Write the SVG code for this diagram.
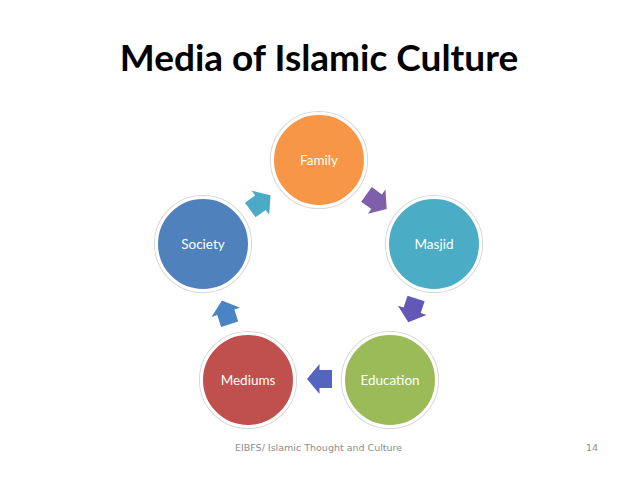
<svg xmlns="http://www.w3.org/2000/svg" width="638" height="479" viewBox="0 0 638 479">
<style>
.title{font-family:Lato,"Open Sans","Liberation Sans",sans-serif;font-weight:bold;font-size:37px;fill:#000}
.node circle.f{stroke:#fff;stroke-width:3}
.node circle.s{fill:none;stroke:#d9d9d9;stroke-width:1.2}
.lbl{font-family:Lato,"Open Sans","Liberation Sans",sans-serif;font-size:13.5px;fill:#fff;text-anchor:middle}
.foot{font-family:"DejaVu Sans","Liberation Sans",sans-serif;font-size:9.5px;fill:#8c8c8c}
</style>
<defs>
<path id="arr" d="M-12.5,-9 L0,-9 L0,-15 L12.5,0 L0,15 L0,9 L-12.5,9 Z"/>
</defs>
<rect width="638" height="479" fill="#fff"/>
<text class="title" x="319" y="71" text-anchor="middle">Media of Islamic Culture</text>
<g id="connectors">
<use href="#arr" fill="#7F5FAA" transform="translate(376.6,201.7) rotate(36)"/>
<use href="#arr" fill="#6358B5" transform="translate(412.2,310.3) rotate(108)"/>
<use href="#arr" fill="#5565BF" transform="translate(319.5,379) rotate(180)"/>
<use href="#arr" fill="#4A84C4" transform="translate(225.8,312.3) rotate(252)"/>
<use href="#arr" fill="#4AAAC8" transform="translate(260.4,202.7) rotate(324)"/>
</g>
<g id="family" class="node">
<circle class="s" cx="319" cy="160" r="48.5"/>
<circle class="f" cx="319" cy="160" r="46.5" fill="#F79646"/>
<text class="lbl" x="319" y="165">Family</text>
</g>
<g id="masjid" class="node">
<circle class="s" cx="434" cy="244" r="48.5"/>
<circle class="f" cx="434" cy="244" r="46.5" fill="#4BACC6"/>
<text class="lbl" x="434" y="249">Masjid</text>
</g>
<g id="education" class="node">
<circle class="s" cx="390" cy="380" r="48.5"/>
<circle class="f" cx="390" cy="380" r="46.5" fill="#9BBB59"/>
<text class="lbl" x="390" y="385">Education</text>
</g>
<g id="mediums" class="node">
<circle class="s" cx="248" cy="380" r="48.5"/>
<circle class="f" cx="248" cy="380" r="46.5" fill="#C0504D"/>
<text class="lbl" x="248" y="385">Mediums</text>
</g>
<g id="society" class="node">
<circle class="s" cx="203" cy="244" r="48.5"/>
<circle class="f" cx="203" cy="244" r="46.5" fill="#4F81BD"/>
<text class="lbl" x="203" y="249">Society</text>
</g>
<text class="foot" x="235" y="451">EIBFS/ Islamic Thought and Culture</text>
<text class="foot" x="598" y="451" text-anchor="end">14</text>
</svg>
